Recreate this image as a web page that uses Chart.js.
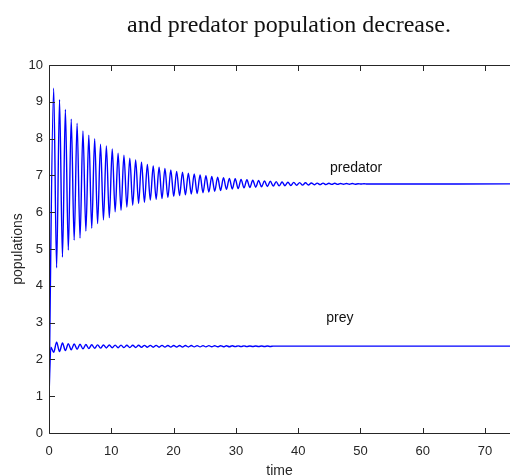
<!DOCTYPE html>
<html>
<head>
<meta charset="utf-8">
<script src="https://cdn.jsdelivr.net/npm/chart.js@4.4.1/dist/chart.umd.min.js"></script>
<style>
html,body{margin:0;padding:0;background:#ffffff;}
#wrap{position:relative;width:510px;height:475px;}
</style>
</head>
<body>
<div id="wrap"><canvas id="c" width="510" height="475"></canvas></div>
<script>
// ---- text ----
const chartTitle = "and predator population decrease.";
const xAxisTitle = "time";
const yAxisTitle = "populations";
const seriesNames = ["predator", "prey"];

// ---- ticks ----
const xTickValues = [0, 10, 20, 30, 40, 50, 60, 70];
const yTickValues = [0, 1, 2, 3, 4, 5, 6, 7, 8, 9, 10];

// ---- start and end values ----
const startTime = 0;
const predatorStart = 1.0;
const preyStart = 1.0;
const preyEarlyTime = 0.3;
const preyEarlyValue = 2.33;
const endTime = 74;
const predatorEnd = 6.77;
const preyEnd = 2.36;

// ---- times of successive extrema (predator peak, trough, peak, ...) ----
const extremaTimes = [
  0.75, 1.22, 1.69, 2.16, 2.63, 3.10, 3.57, 4.04, 4.51, 4.98,
  5.45, 5.92, 6.39, 6.86, 7.33, 7.80, 8.27, 8.74, 9.21, 9.68,
  10.15, 10.62, 11.09, 11.56, 12.03, 12.50, 12.97, 13.44, 13.91, 14.38,
  14.85, 15.32, 15.79, 16.26, 16.73, 17.20, 17.67, 18.14, 18.61, 19.08,
  19.55, 20.02, 20.49, 20.96, 21.43, 21.90, 22.37, 22.84, 23.31, 23.78,
  24.25, 24.72, 25.19, 25.66, 26.13, 26.60, 27.07, 27.54, 28.01, 28.48,
  28.95, 29.42, 29.89, 30.36, 30.83, 31.30, 31.77, 32.24, 32.71, 33.18,
  33.65, 34.12, 34.59, 35.06, 35.53, 36.00, 36.47, 36.94, 37.41, 37.88,
  38.35, 38.82, 39.29, 39.76, 40.23, 40.70, 41.17, 41.64, 42.11, 42.58,
  43.05, 43.52, 43.99, 44.46, 44.93, 45.40, 45.87, 46.34, 46.81, 47.28,
  47.75, 48.22, 48.69, 49.16, 49.63, 50.10, 50.57, 51.04
];

// predator local maxima / minima, one per cycle
const predatorPeaks = [
  9.37, 9.06, 8.79, 8.53, 8.42, 8.21, 8.09, 8.00, 7.85, 7.80,
  7.72, 7.60, 7.55, 7.47, 7.42, 7.36, 7.30, 7.26, 7.22, 7.19,
  7.15, 7.11, 7.09, 7.06, 7.04, 7.01, 6.99, 6.97, 6.95, 6.94,
  6.92, 6.91, 6.89, 6.88, 6.87, 6.86, 6.85, 6.84, 6.83, 6.82,
  6.815, 6.81, 6.805, 6.80, 6.795, 6.79, 6.79, 6.785, 6.785, 6.78,
  6.78, 6.78, 6.775, 6.775
];
const predatorTroughs = [
  4.49, 4.78, 4.97, 5.24, 5.30, 5.49, 5.56, 5.69, 5.79, 5.85,
  6.01, 6.05, 6.14, 6.19, 6.24, 6.27, 6.33, 6.35, 6.37, 6.40,
  6.43, 6.45, 6.47, 6.49, 6.51, 6.53, 6.55, 6.57, 6.59, 6.62,
  6.63, 6.64, 6.66, 6.67, 6.68, 6.69, 6.70, 6.71, 6.715, 6.72,
  6.725, 6.73, 6.735, 6.74, 6.745, 6.75, 6.75, 6.755, 6.755, 6.76,
  6.76, 6.76, 6.765, 6.765
];
// prey minima occur near predator maxima, prey maxima near predator minima
const preyTroughs = [
  2.19, 2.215, 2.24, 2.26, 2.275, 2.287, 2.295, 2.302, 2.307, 2.311,
  2.315, 2.318, 2.320, 2.323, 2.325, 2.328, 2.329, 2.330, 2.332, 2.333,
  2.334, 2.335, 2.336, 2.338, 2.339, 2.340, 2.341, 2.342, 2.343, 2.344,
  2.345, 2.346, 2.347, 2.348, 2.349, 2.350, 2.351, 2.352
];
const preyPeaks = [
  2.47, 2.445, 2.43, 2.42, 2.411, 2.403, 2.399, 2.396, 2.393, 2.391,
  2.389, 2.388, 2.386, 2.385, 2.383, 2.382, 2.381, 2.380, 2.380, 2.379,
  2.378, 2.377, 2.376, 2.376, 2.375, 2.374, 2.373, 2.372, 2.371, 2.370,
  2.369, 2.368, 2.367, 2.366, 2.365, 2.364, 2.363, 2.362
];

// ---- build point lists from the arrays above ----
function buildSeries(start, maxima, minima, end, maxFirst, extra) {
  const pts = [{x: startTime, y: start}];
  if (extra) pts.push(extra);
  for (let i = 0; i < extremaTimes.length; i++) {
    const k = Math.floor(i / 2);
    const even = (i % 2 === 0);
    const arr = (even === maxFirst) ? maxima : minima;
    if (k < arr.length) pts.push({x: extremaTimes[i], y: arr[k]});
  }
  pts.push({x: endTime, y: end});
  return pts;
}
const predatorData = buildSeries(predatorStart, predatorPeaks, predatorTroughs, predatorEnd, true, null);
const preyData = buildSeries(preyStart, preyPeaks, preyTroughs, preyEnd, false, {x: preyEarlyTime, y: preyEarlyValue});

const AXIS_COLOR = '#262626';
const SANS = "'Liberation Sans', Arial, sans-serif";

const decorPlugin = {
  id: 'decor',
  afterDraw(chart) {
    const {ctx, chartArea: a, scales} = chart;
    const xs = scales.x, ys = scales.y;
    ctx.save();
    // frame (left, bottom, top)
    ctx.strokeStyle = AXIS_COLOR;
    ctx.lineWidth = 1;
    ctx.beginPath();
    ctx.moveTo(a.left + 0.5, a.top + 0.5);
    ctx.lineTo(a.left + 0.5, a.bottom + 0.5);
    ctx.lineTo(a.right + 2, a.bottom + 0.5);
    ctx.moveTo(a.left + 0.5, a.top + 0.5);
    ctx.lineTo(a.right + 2, a.top + 0.5);
    ctx.stroke();
    // inward ticks
    ctx.beginPath();
    xTickValues.forEach(v => {
      const px = Math.round(xs.getPixelForValue(v)) + 0.5;
      ctx.moveTo(px, a.bottom + 0.5); ctx.lineTo(px, a.bottom - 5);
      ctx.moveTo(px, a.top + 0.5); ctx.lineTo(px, a.top + 6);
    });
    yTickValues.forEach(v => {
      const py = Math.round(ys.getPixelForValue(v)) + 0.5;
      ctx.moveTo(a.left + 0.5, py); ctx.lineTo(a.left + 6, py);
    });
    ctx.stroke();
    // series labels
    ctx.fillStyle = '#111111';
    ctx.font = "14px " + SANS;
    ctx.textAlign = 'left';
    ctx.textBaseline = 'middle';
    ctx.fillText(seriesNames[0], xs.getPixelForValue(45.1), ys.getPixelForValue(7.21));
    ctx.fillText(seriesNames[1], xs.getPixelForValue(44.5), ys.getPixelForValue(3.11));
    // title
    ctx.font = "24px 'Liberation Serif', 'Times New Roman', serif";
    ctx.textAlign = 'center';
    ctx.textBaseline = 'alphabetic';
    ctx.fillStyle = '#111111';
    ctx.fillText(chartTitle, 289, 32);
    ctx.restore();
  }
};

new Chart(document.getElementById('c'), {
  type: 'line',
  data: {
    datasets: [
      {label: seriesNames[0], data: predatorData, borderColor: '#0000ff', borderWidth: 1.4,
       pointRadius: 0, cubicInterpolationMode: 'monotone', fill: false},
      {label: seriesNames[1], data: preyData, borderColor: '#0000ff', borderWidth: 1.4,
       pointRadius: 0, cubicInterpolationMode: 'monotone', fill: false}
    ]
  },
  options: {
    responsive: false,
    devicePixelRatio: 1,
    animation: false,
    events: [],
    layout: {padding: {top: 65, left: 0, right: 0, bottom: 0}},
    plugins: {legend: {display: false}, tooltip: {enabled: false}, title: {display: false}},
    scales: {
      x: {
        type: 'linear', min: 0, max: 74,
        afterBuildTicks: s => { s.ticks = xTickValues.map(v => ({value: v})); },
        afterFit: s => { s.height = 42; s.paddingLeft = 0; s.paddingRight = 0; },
        grid: {display: false, drawTicks: false},
        border: {display: false},
        ticks: {color: AXIS_COLOR, font: {family: SANS, size: 13}, padding: 11, maxRotation: 0, autoSkip: false},
        title: {display: true, text: xAxisTitle, color: AXIS_COLOR, font: {family: SANS, size: 14}, padding: {top: 0, bottom: -5}}
      },
      y: {
        type: 'linear', min: 0, max: 10,
        afterBuildTicks: s => { s.ticks = yTickValues.map(v => ({value: v})); },
        afterFit: s => { s.width = 49; s.paddingTop = 0; s.paddingBottom = 0; },
        grid: {display: false, drawTicks: false},
        border: {display: false},
        ticks: {color: AXIS_COLOR, font: {family: SANS, size: 13}, padding: 6, autoSkip: false},
        title: {display: true, text: yAxisTitle, color: AXIS_COLOR, font: {family: SANS, size: 14}, padding: {top: 10, bottom: 0}}
      }
    }
  },
  plugins: [decorPlugin]
});
</script>
</body>
</html>
